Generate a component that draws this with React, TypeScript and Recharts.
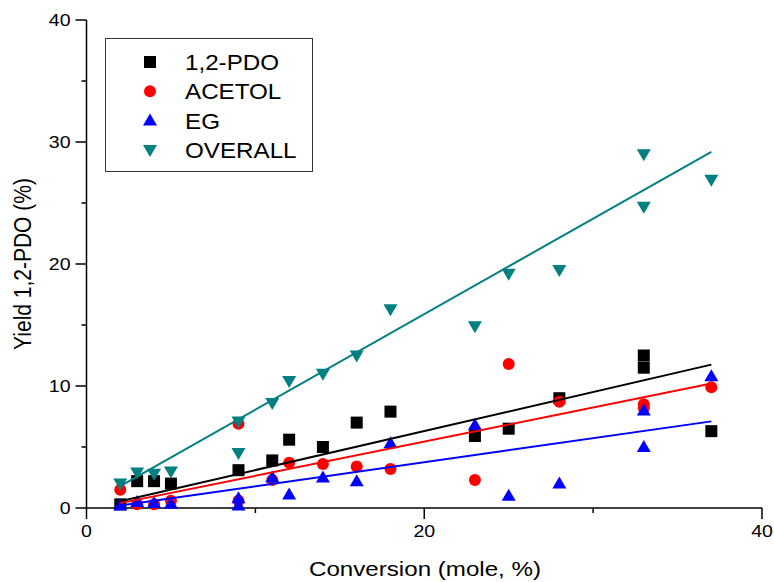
import { ScatterChart, Scatter, XAxis, YAxis, Legend } from 'recharts';

// conversion (mole %) of each run
const conversion = [2, 3, 4, 5, 9, 9, 11, 12, 14, 16, 18, 23, 25, 28, 33, 33, 37];
// product yields (%) per run, same order as conversion
const pdoYield = [0.3, 2.2, 2.2, 2.0, 3.1, null, 3.9, 5.6, 5.0, 7.0, 7.9, 5.9, 6.5, 9.0, 12.5, 11.5, 6.3];
const acetolYield = [1.5, 0.3, 0.3, 0.6, 0.6, 6.9, 2.3, 3.7, 3.6, 3.4, 3.2, 2.3, 11.8, 8.7, 8.5, 8.2, 9.9];
const egYield = [0.2, 0.5, 0.4, 0.35, 0.8, 0.2, 2.5, 1.1, 2.5, 2.2, 5.3, 6.8, 1.0, 2.0, 8.0, 5.0, 10.8];
const overallYield = [2.0, 2.9, 2.8, 3.0, 4.5, 7.1, 8.6, 10.4, 11.0, 12.5, 16.3, 14.9, 19.2, 19.5, 29.0, 24.7, 26.9];

// linear fit end points
const fitConversion = [2, 37];
const pdoFit = [0.55, 11.75];
const acetolFit = [0.4, 10.2];
const egFit = [0.2, 7.1];
const overallFit = [1.8, 29.2];

const xTicks = [0, 10, 20, 30, 40];
const yTicks = [0, 5, 10, 15, 20, 25, 30, 35, 40];

const FONT = '"Liberation Sans", Arial, sans-serif';
const TEAL = '#008080';

type Pt = { x: number; y: number };

const toPoints = (xs: number[], ys: (number | null)[]): Pt[] =>
  xs.flatMap((x, i) => (ys[i] == null ? [] : [{ x, y: ys[i] as number }]));

const pdoPts = toPoints(conversion, pdoYield);
const acetolPts = toPoints(conversion, acetolYield);
const egPts = toPoints(conversion, egYield);
const overallPts = toPoints(conversion, overallYield);

const series = [
  { name: '1,2-PDO', color: '#000000', kind: 'square', pts: pdoPts, fit: toPoints(fitConversion, pdoFit) },
  { name: 'ACETOL', color: '#ff0000', kind: 'circle', pts: acetolPts, fit: toPoints(fitConversion, acetolFit) },
  { name: 'EG', color: '#0000ff', kind: 'up', pts: egPts, fit: toPoints(fitConversion, egFit) },
  { name: 'OVERALL', color: TEAL, kind: 'down', pts: overallPts, fit: toPoints(fitConversion, overallFit) },
];

function marker(kind: string, cx: number, cy: number, color: string) {
  switch (kind) {
    case 'square':
      return <rect x={cx - 6} y={cy - 6} width={12} height={12} fill={color} />;
    case 'circle':
      return <circle cx={cx} cy={cy} r={6} fill={color} />;
    case 'up':
      return <path d={`M${cx},${cy - 7}L${cx + 7},${cy + 5}L${cx - 7},${cy + 5}Z`} fill={color} />;
    default:
      return <path d={`M${cx},${cy + 7}L${cx + 7},${cy - 5}L${cx - 7},${cy - 5}Z`} fill={color} />;
  }
}

const makeShape = (kind: string, color: string) => (p: any) => <g>{marker(kind, p.cx, p.cy, color)}</g>;
const noShape = () => <g />;

// horizontally widened text, the glyphs in this figure run a bit wide
function WideText({ x, y, size, anchor, sx = 1.15, children }: any) {
  return (
    <text
      transform={`translate(${x},${y}) scale(${sx},1)`}
      textAnchor={anchor}
      fontFamily={FONT}
      fontSize={size}
      fill="#000"
    >
      {children}
    </text>
  );
}

function LeftTick({ x, y, payload }: any) {
  const major = payload.value % 10 === 0;
  return (
    <g>
      <line x1={x} x2={x - (major ? 11 : 5)} y1={y} y2={y} stroke="#000" strokeWidth={1.5} />
      {major && (
        <WideText x={x - 16} y={y + 6} size={17} anchor="end">
          {payload.value}
        </WideText>
      )}
    </g>
  );
}

function RightTick({ x, y, payload }: any) {
  const major = payload.value % 10 === 0;
  return <line x1={x} x2={x - (major ? 11 : 6)} y1={y} y2={y} stroke="#000" strokeWidth={1.5} />;
}

function BottomTick({ x, y, payload }: any) {
  const major = payload.value % 20 === 0;
  return (
    <g>
      <line x1={x} x2={x} y1={y} y2={y + (major ? 11 : 5)} stroke="#000" strokeWidth={1.5} />
      {major && (
        <WideText x={x} y={y + 29} size={17} anchor="middle">
          {payload.value}
        </WideText>
      )}
    </g>
  );
}

function TopTick({ x, y, payload }: any) {
  const major = payload.value % 20 === 0;
  return <line x1={x} x2={x} y1={y} y2={y + (major ? 10 : 5)} stroke="#000" strokeWidth={1.5} />;
}

function LegendBox() {
  return (
    <svg width={208} height={134} style={{ display: 'block' }}>
      <rect x={0.5} y={0.5} width={207} height={133} fill="#fff" stroke="#333" strokeWidth={1} />
      {series.map((s, i) => (
        <g key={s.name}>
          {marker(s.kind, 45, 24 + i * 29.3, s.color)}
          <WideText x={80} y={24 + i * 29.3 + 8} size={22} anchor="start" sx={1.1}>
            {s.name}
          </WideText>
        </g>
      ))}
    </svg>
  );
}

export default function App() {
  return (
    <div style={{ position: 'absolute', left: 0, top: 0, width: 774, height: 582, background: '#fff' }}>
      <ScatterChart width={774} height={582} margin={{ top: 20, right: 12, bottom: 0, left: 0 }}>
        <XAxis
          xAxisId="b"
          type="number"
          dataKey="x"
          domain={[0, 40]}
          ticks={xTicks}
          height={74}
          tickSize={0}
          tickMargin={0}
          tickLine={false}
          tick={BottomTick}
          axisLine={{ stroke: '#000', strokeWidth: 1.5 }}
        />
        <XAxis
          xAxisId="t"
          orientation="top"
          type="number"
          dataKey="x"
          domain={[0, 40]}
          ticks={xTicks}
          height={0}
          tickSize={0}
          tickMargin={0}
          tickLine={false}
          tick={TopTick}
          axisLine={{ stroke: '#000', strokeWidth: 1.5 }}
        />
        <YAxis
          yAxisId="l"
          type="number"
          dataKey="y"
          domain={[0, 40]}
          ticks={yTicks}
          width={86.5}
          tickSize={0}
          tickMargin={0}
          tickLine={false}
          tick={LeftTick}
          axisLine={{ stroke: '#000', strokeWidth: 1.5 }}
        />
        <YAxis
          yAxisId="r"
          orientation="right"
          type="number"
          dataKey="y"
          domain={[0, 40]}
          ticks={yTicks}
          width={0}
          tickSize={0}
          tickMargin={0}
          tickLine={false}
          tick={RightTick}
          axisLine={{ stroke: '#000', strokeWidth: 1.5 }}
        />
        {series.map((s) => (
          <Scatter
            key={s.name}
            name={s.name}
            xAxisId="b"
            yAxisId="l"
            data={s.pts}
            shape={makeShape(s.kind, s.color)}
            isAnimationActive={false}
          />
        ))}
        {series.map((s) => (
          <Scatter
            key={s.name + '-fit'}
            xAxisId="b"
            yAxisId="l"
            data={s.fit}
            line={{ stroke: s.color, strokeWidth: 2 }}
            shape={noShape}
            legendType="none"
            isAnimationActive={false}
          />
        ))}
        <Legend
          layout="vertical"
          align="center"
          verticalAlign="middle"
          content={LegendBox}
          wrapperStyle={{ left: 105, top: 38, width: 208, height: 134 }}
        />
        <text
          transform="translate(31,264) rotate(-90) scale(1,1.15)"
          textAnchor="middle"
          fontFamily={FONT}
          fontSize={21}
          fill="#000"
        >
          Yield 1,2-PDO (%)
        </text>
        <WideText x={425} y={576} size={21} anchor="middle">
          Conversion (mole, %)
        </WideText>
      </ScatterChart>
    </div>
  );
}
